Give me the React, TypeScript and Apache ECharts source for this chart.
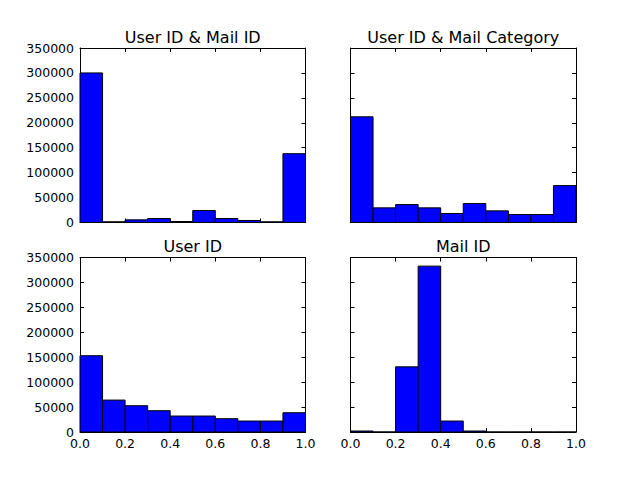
import React, { useEffect, useRef } from "react";
import * as echarts from "echarts";

const binEdges = [0, 0.1, 0.2, 0.3, 0.4, 0.5, 0.6, 0.7, 0.8, 0.9, 1.0];
const userMailId = [300000, 1500, 5300, 8000, 2000, 24000, 8000, 4000, 1500, 138000];
const userMailCategory = [212000, 29400, 36000, 29400, 18000, 38000, 23400, 16000, 16000, 74000];
const userId = [153000, 64000, 52700, 42700, 32000, 32000, 26700, 22000, 22000, 38700];
const mailId = [2000, 0, 130700, 332700, 22000, 2000, 0, 0, 0, 0];
const titles = ["User ID & Mail ID", "User ID & Mail Category", "User ID", "Mail ID"];
const allSeries = [userMailId, userMailCategory, userId, mailId];

const FONT = "DejaVu Sans";

export default function App() {
  const ref = useRef<HTMLDivElement>(null);
  useEffect(() => {
    if (!ref.current) return;
    const chart = echarts.init(ref.current, null, { renderer: "svg" });
    const W = 225.5;
    const H = 174.5;
    const lefts = [80, 350.5, 80, 350.5];
    const tops = [48, 48, 257.5, 257.5];
    const grids = lefts.map((l, i) => ({ left: l, top: tops[i], width: W, height: H, containLabel: false }));
    const xAxes: any[] = [];
    const yAxes: any[] = [];
    const axisLine = () => ({ show: true, onZero: false, lineStyle: { color: "#000", width: 1 } });
    const tick = () => ({ show: true, inside: true, length: 4, lineStyle: { color: "#000", width: 1 } });
    for (let i = 0; i < 4; i++) {
      const isTop = i < 2;
      const isRight = i % 2 === 1;
      xAxes.push({
        type: "value", gridIndex: i, position: "bottom", min: 0, max: 1, interval: 0.2,
        axisLine: axisLine(), axisTick: tick(), splitLine: { show: false },
        axisLabel: { show: !isTop, margin: 5, color: "#000", fontFamily: FONT, fontSize: 12.5,
          formatter: (v: number) => v.toFixed(1) },
      });
      xAxes.push({
        type: "value", gridIndex: i, position: "top", min: 0, max: 1, interval: 0.2,
        axisLine: axisLine(), axisTick: tick(), splitLine: { show: false }, axisLabel: { show: false },
      });
      yAxes.push({
        type: "value", gridIndex: i, position: "left", min: 0, max: 350000, interval: 50000,
        axisLine: axisLine(), axisTick: tick(), splitLine: { show: false },
        axisLabel: { show: !isRight, margin: 6, color: "#000", fontFamily: FONT, fontSize: 12.5,
          formatter: (v: number) => String(v) },
      });
      yAxes.push({
        type: "value", gridIndex: i, position: "right", min: 0, max: 350000, interval: 50000,
        axisLine: axisLine(), axisTick: tick(), splitLine: { show: false }, axisLabel: { show: false },
      });
    }
    const series = allSeries.map((vals, i) => ({
      type: "custom",
      xAxisIndex: 2 * i,
      yAxisIndex: 2 * i,
      encode: { x: [0, 1], y: 2 },
      data: vals.map((v, k) => [binEdges[k], binEdges[k + 1], v]),
      renderItem: (params: any, api: any) => {
        const p0 = api.coord([api.value(0), 0]);
        const p1 = api.coord([api.value(1), api.value(2)]);
        return {
          type: "rect",
          shape: { x: p0[0], y: p1[1], width: p1[0] - p0[0], height: p0[1] - p1[1] },
          style: { fill: "#0000ff", stroke: "#000", lineWidth: 1 },
        };
      },
    }));
    const graphic = titles.map((t, i) => ({
      type: "text",
      x: lefts[i] + W / 2,
      y: tops[i] - 11,
      style: { text: t, textAlign: "center", textVerticalAlign: "middle", fill: "#000",
        font: `16px "${FONT}"` },
    }));
    chart.setOption({
      animation: false,
      backgroundColor: "#fff",
      grid: grids,
      xAxis: xAxes,
      yAxis: yAxes,
      series,
      graphic,
    } as any);
    return () => chart.dispose();
  }, []);
  return <div ref={ref} style={{ position: "fixed", left: 0, top: 0, width: 640, height: 480 }} />;
}
